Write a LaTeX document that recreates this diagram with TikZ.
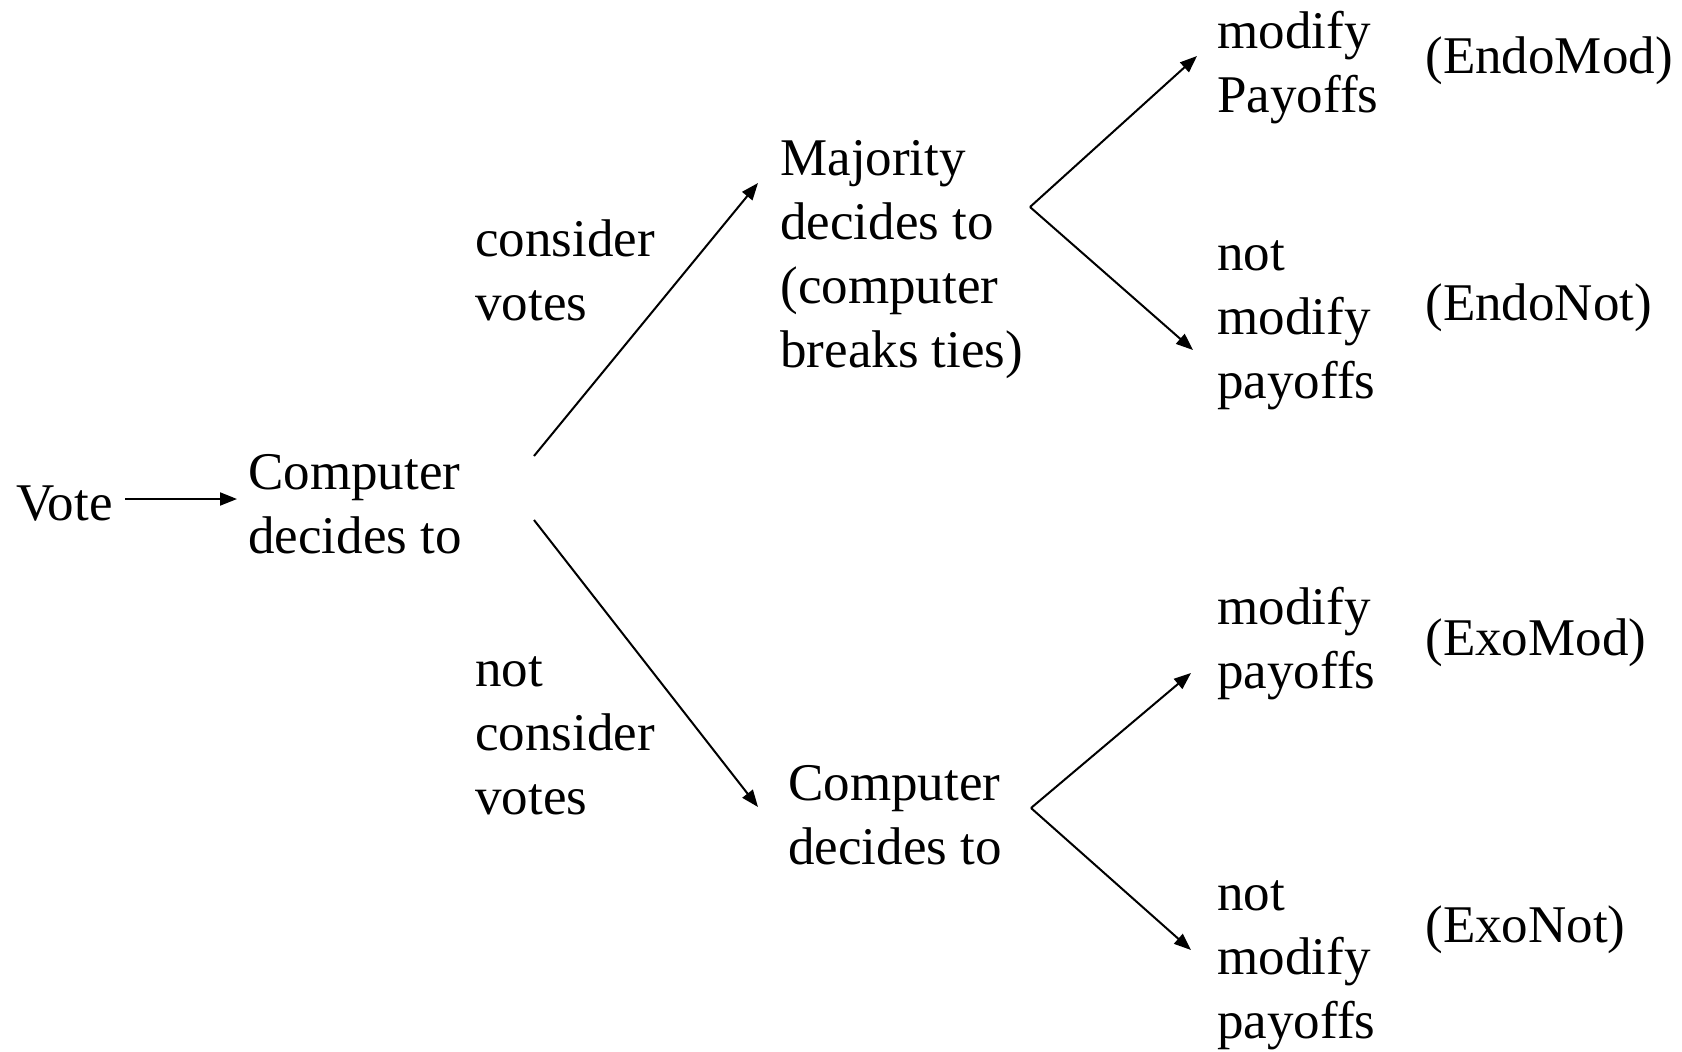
\documentclass[tikz,border=0pt]{standalone}
\usepackage{fontspec}
\setmainfont{Liberation Serif}
\usetikzlibrary{arrows.meta}
\begin{document}
\begin{tikzpicture}[x=0.5pt,y=-0.5pt,
  lbl/.style={anchor=west,inner sep=0pt,align=left,font=\fontsize{26.5}{32}\selectfont},
  arr/.style={line width=1pt,-{Triangle[length=8.5pt,width=6.5pt]}},
  ln/.style={line width=1pt}]
\useasboundingbox (0,0) rectangle (1682,1051);
% nodes
\node[lbl] (vote) at (16,504) {Vote};
\node[lbl] (comp) at (248,504) {Computer\\decides to};
\node[lbl] (cons) at (475,270) {consider\\votes};
\node[lbl] (ncons) at (475,736) {not\\consider\\votes};
\node[lbl] (maj) at (780,260) {Majority\\decides to\\(computer\\breaks ties)};
\node[lbl] (comp2) at (788,815) {Computer\\decides to};
\node[lbl] (modA) at (1217,68) {modify\\Payoffs};
\node[lbl] (notA) at (1217,325) {not\\modify\\payoffs};
\node[lbl] (modB) at (1217,644) {modify\\payoffs};
\node[lbl] (notB) at (1217,965) {not\\modify\\payoffs};
\node[lbl] (endomod) at (1425,61) {(EndoMod)};
\node[lbl] (endonot) at (1425,308) {(EndoNot)};
\node[lbl] (exomod) at (1425,643) {(ExoMod)};
\node[lbl] (exonot) at (1425,930) {(ExoNot)};
% connector end points
\coordinate (v0) at (125,499);
\coordinate (v1) at (237,499);
\coordinate (cu) at (534,456);
\coordinate (cd) at (534,520);
\coordinate (majtip) at (758,183);
\coordinate (comp2tip) at (758,807);
\coordinate (mfork) at (1030,207);
\coordinate (modAtip) at (1197,56);
\coordinate (notAtip) at (1193,350);
\coordinate (cfork) at (1031,808);
\coordinate (modBtip) at (1191,673);
\coordinate (notBtip) at (1191,950);
% connectors
\draw[arr] (v0) -- (v1);
\draw[arr] (cu) -- (majtip);
\draw[arr] (cd) -- (comp2tip);
\draw[arr] (mfork) -- (modAtip);
\draw[arr] (mfork) -- (notAtip);
\draw[arr] (cfork) -- (modBtip);
\draw[arr] (cfork) -- (notBtip);
\end{tikzpicture}
\end{document}
